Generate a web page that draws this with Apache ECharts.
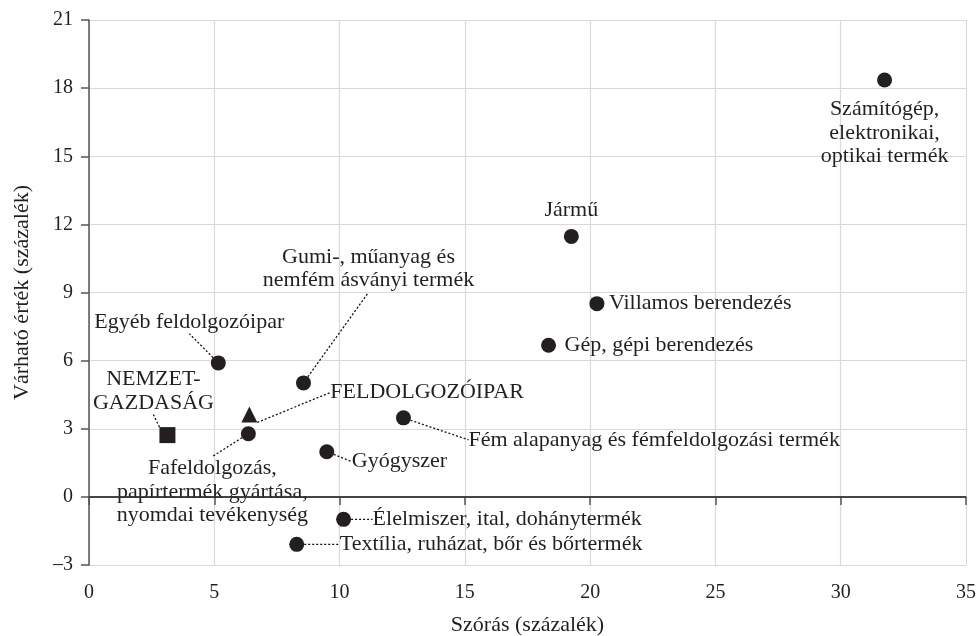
<!DOCTYPE html>
<html>
<head>
<meta charset="utf-8">
<script src="https://cdn.jsdelivr.net/npm/echarts@6/dist/echarts.min.js"></script>
<style>
	html, body { margin: 0; padding: 0; background: #ffffff; }
	#chart { width: 978px; height: 636px; }
</style>
</head>
<body>
<div id="chart"></div>
<script>
	// adatok
	var names = [
		'Számítógép,\nelektronikai,\noptikai termék',
		'Jármű',
		'Villamos berendezés',
		'Gép, gépi berendezés',
		'Egyéb feldolgozóipar',
		'Gumi-, műanyag és\nnemfém ásványi termék',
		'FELDOLGOZÓIPAR',
		'NEMZET-\nGAZDASÁG',
		'Fafeldolgozás,\npapírtermék gyártása,\nnyomdai tevékenység',
		'Fém alapanyag és fémfeldolgozási termék',
		'Gyógyszer',
		'Élelmiszer, ital, dohánytermék',
		'Textília, ruházat, bőr és bőrtermék'
	];
	var szoras = [31.75, 19.25, 20.27, 18.34, 5.16, 8.56, 6.40, 3.13, 6.36, 12.55, 9.49, 10.16, 8.29];
	var varhato = [18.36, 11.47, 8.51, 6.68, 5.90, 5.02, 3.63, 2.72, 2.78, 3.48, 1.99, -0.99, -2.09];
	var kinds = ['ag', 'ag', 'ag', 'ag', 'ag', 'ag', 'feldolgozoipar', 'nemzetgazdasag', 'ag', 'ag', 'ag', 'ag', 'ag'];
	var xTicks = [0, 5, 10, 15, 20, 25, 30, 35];
	var yTicks = [-3, 0, 3, 6, 9, 12, 15, 18, 21];

	// címkék helye a jelölőhöz képest: [dx, dy, igazítás, vezetővonal]
	var labelPos = [
		[0, 53, 'center', false],
		[0, -26, 'center', false],
		[12, 0, 'left', false],
		[16, 0, 'left', false],
		[-29, -41, 'center', true],
		[65, -114, 'center', true],
		[81, -22, 'left', true],
		[-14, -44, 'center', true],
		[-36, 58, 'center', true],
		[65, 22, 'left', true],
		[25, 10, 'left', true],
		[29, 0, 'left', true],
		[43, 0, 'left', true]
	];

	var symbols = {
		ag: { symbol: 'circle', size: 15 },
		feldolgozoipar: { symbol: 'triangle', size: 16 },
		nemzetgazdasag: { symbol: 'rect', size: 16 }
	};

	var ink = '#231f20';
	var font = 'Liberation Serif';

	var seriesData = [];
	for (var i = 0; i < names.length; i++) {
		var s = symbols[kinds[i]];
		seriesData.push({
			name: names[i],
			value: [szoras[i], varhato[i]],
			symbol: s.symbol,
			symbolSize: s.size,
			labelLine: { show: labelPos[i][3] }
		});
	}

	var chart = echarts.init(document.getElementById('chart'));
	var option = {
		animation: false,
		backgroundColor: '#ffffff',
		grid: { left: 89, right: 12, top: 20, bottom: 71, containLabel: false, outerBoundsMode: 'none' },
		xAxis: {
			type: 'value',
			min: xTicks[0],
			max: xTicks[xTicks.length - 1],
			interval: 5,
			name: 'Szórás (százalék)',
			nameLocation: 'middle',
			nameGap: 49,
			nameTextStyle: { fontFamily: font, fontSize: 22, color: ink },
			axisLine: { show: true, lineStyle: { color: '#555555', width: 1.5 } },
			axisTick: { show: true, length: 8, lineStyle: { color: '#555555', width: 1.5 } },
			axisLabel: { margin: 18, fontFamily: font, fontSize: 20, color: ink },
			splitLine: { show: true, lineStyle: { color: '#d9d9d9', width: 1.2 } }
		},
		yAxis: {
			type: 'value',
			min: yTicks[0],
			max: yTicks[yTicks.length - 1],
			interval: 3,
			name: 'Várható érték (százalék)',
			nameLocation: 'middle',
			nameGap: 56,
			nameTextStyle: { fontFamily: font, fontSize: 22, color: ink },
			axisLine: { show: true, onZero: false, lineStyle: { color: '#555555', width: 1.5 } },
			axisTick: { show: true, length: 8, lineStyle: { color: '#555555', width: 1.5 } },
			axisLabel: {
				margin: 16,
				fontFamily: font,
				fontSize: 20,
				color: ink,
				formatter: function (v) { return v < 0 ? '\u2013' + Math.abs(v) : String(v); }
			},
			splitLine: { show: true, lineStyle: { color: '#d9d9d9', width: 1.2 } }
		},
		series: [
			{
				type: 'scatter',
				data: seriesData,
				itemStyle: { color: ink, opacity: 1 },
				label: {
					show: true,
					position: 'inside',
					formatter: '{b}',
					fontFamily: font,
					fontSize: 22,
					lineHeight: 23.5,
					color: ink
				},
				labelLine: {
					show: false,
					lineStyle: { color: '#111111', width: 1.3, type: [2, 2] }
				},
				labelLayout: function (params) {
					var p = labelPos[params.dataIndex];
					var r = params.rect;
					return {
						x: r.x + r.width / 2 + p[0],
						y: r.y + r.height / 2 + p[1],
						align: p[2],
						verticalAlign: 'middle'
					};
				},
				markLine: {
					silent: true,
					symbol: 'none',
					label: { show: false },
					lineStyle: { color: '#333333', width: 1.5, type: 'solid' },
					data: [{ yAxis: 0 }]
				}
			}
		]
	};
	chart.setOption(option);
</script>
</body>
</html>
